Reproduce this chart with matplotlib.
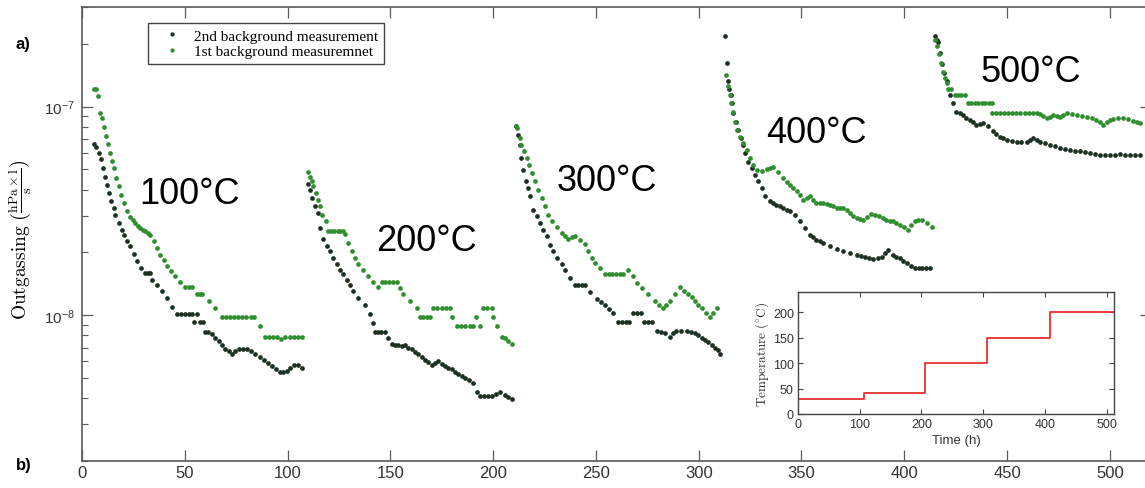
import matplotlib
matplotlib.use('Agg')
import matplotlib.pyplot as plt
from matplotlib.ticker import NullFormatter
import numpy as np

# outgassing values are in units of 1e-8 hPa*l/s, time in hours
dark_100 = [(5.7, 6.6), (6.8, 6.4), (8.1, 5.98), (9.1, 5.62), (10.1, 5.07), (11.0, 4.62), (12.0, 4.22),
            (13.0, 3.85), (14.3, 3.51), (15.4, 3.26), (16.2, 3.03), (17.8, 2.76), (19.5, 2.57), (20.3, 2.43),
            (21.9, 2.26), (23.5, 2.14), (25.1, 1.97), (26.7, 1.81), (28.9, 1.68), (30.8, 1.59), (32.0, 1.59),
            (33.2, 1.59), (34.0, 1.48), (36.5, 1.40), (38.9, 1.30), (41.3, 1.21), (43.8, 1.10), (46.2, 1.01),
            (48.0, 1.01), (50.0, 1.01), (52.0, 1.01), (53.5, 1.01), (54.3, 0.93), (56.0, 1.01), (57.5, 0.93),
            (58.9, 0.93), (60.0, 0.83), (61.5, 0.83), (63.2, 0.81), (64.8, 0.78), (66.5, 0.75), (68.0, 0.72),
            (69.7, 0.685), (71.3, 0.67), (72.9, 0.65), (74.5, 0.67), (76.2, 0.69), (78.3, 0.69), (80.3, 0.69),
            (82.3, 0.67), (84.3, 0.65), (86.4, 0.63), (88.4, 0.61), (90.4, 0.59), (92.4, 0.57), (94.4, 0.555),
            (96.5, 0.535), (98.0, 0.535), (99.7, 0.54), (101.3, 0.56), (103.0, 0.58), (105.0, 0.575), (107.0, 0.56)]
green_100 = [(6.0, 12.2), (6.9, 12.2), (7.8, 11.2), (8.9, 9.3), (9.7, 8.8), (10.7, 8.0), (11.7, 7.2), (12.6, 6.6),
             (13.6, 6.0), (14.6, 5.5), (15.6, 5.05), (16.5, 4.57), (17.8, 4.14), (19.1, 3.78), (20.4, 3.45),
             (21.9, 3.15), (23.5, 2.94), (24.7, 2.85), (25.9, 2.76), (27.2, 2.69), (28.4, 2.62), (29.6, 2.57),
             (30.8, 2.52), (32.0, 2.47), (33.2, 2.43), (34.9, 2.26), (36.5, 2.10), (38.1, 1.95), (39.7, 1.83),
             (41.3, 1.72), (43.5, 1.62), (45.4, 1.54), (47.8, 1.45), (50.3, 1.36), (52.0, 1.36), (53.5, 1.36),
             (55.9, 1.26), (57.2, 1.26), (58.4, 1.26), (61.6, 1.17), (64.8, 1.08), (68.1, 0.98), (70.0, 0.98),
             (72.0, 0.98), (74.0, 0.98), (76.0, 0.98), (78.0, 0.98), (80.0, 0.98), (82.0, 0.98), (83.5, 0.98),
             (86.7, 0.89), (89.2, 0.79), (91.0, 0.79), (93.0, 0.79), (95.0, 0.79), (97.0, 0.77), (99.0, 0.79),
             (101.0, 0.79), (103.0, 0.79), (105.0, 0.79), (107.0, 0.79)]

dark_200 = [(109.8, 4.25), (110.9, 3.99), (112.0, 3.64), (113.3, 3.32), (114.6, 3.09), (115.8, 2.61), (117.4, 2.33),
            (119.0, 2.14), (120.6, 2.02), (122.2, 1.88), (123.9, 1.75), (125.5, 1.65), (127.1, 1.57), (128.7, 1.48),
            (130.4, 1.40), (132.0, 1.30), (134.4, 1.21), (137.6, 1.12), (140.1, 1.01), (141.7, 0.92), (142.5, 0.83),
            (144.0, 0.83), (145.7, 0.83), (147.4, 0.83), (149.0, 0.78), (150.6, 0.73), (152.2, 0.72), (153.8, 0.72),
            (155.5, 0.71), (157.1, 0.72), (158.8, 0.70), (160.4, 0.685), (162.0, 0.665), (163.6, 0.65), (165.2, 0.63),
            (166.8, 0.61), (168.5, 0.595), (170.1, 0.58), (171.7, 0.59), (173.3, 0.60), (174.9, 0.585), (176.5, 0.57),
            (178.2, 0.56), (179.8, 0.55), (181.4, 0.535), (183.0, 0.52), (184.7, 0.51), (186.3, 0.50), (188.3, 0.49),
            (190.3, 0.475), (192.0, 0.43), (193.6, 0.41), (195.5, 0.41), (197.4, 0.41), (199.3, 0.41), (201.3, 0.42),
            (203.3, 0.43), (205.7, 0.415), (207.4, 0.405), (209.0, 0.395)]
green_200 = [(110.1, 4.85), (111.0, 4.6), (111.7, 4.38), (112.5, 4.14), (113.7, 3.85), (114.6, 3.58), (115.8, 3.32),
             (116.9, 3.03), (118.5, 2.82), (119.8, 2.54), (121.3, 2.54), (122.8, 2.54), (124.3, 2.54), (125.7, 2.54),
             (127.1, 2.54), (128.0, 2.45), (129.5, 2.22), (131.2, 2.02), (132.8, 1.88), (134.4, 1.75), (136.8, 1.65),
             (139.3, 1.54), (141.7, 1.44), (144.1, 1.36), (145.8, 1.45), (147.6, 1.45), (149.4, 1.45), (151.2, 1.45),
             (153.1, 1.45), (154.7, 1.35), (156.3, 1.26), (159.5, 1.17), (162.8, 1.08), (164.4, 0.98), (166.1, 0.98),
             (167.7, 0.98), (169.3, 0.98), (170.9, 1.08), (172.9, 1.08), (175.0, 1.08), (177.0, 1.08), (179.0, 1.08),
             (180.2, 0.98), (182.2, 0.89), (184.3, 0.89), (186.4, 0.89), (188.6, 0.89), (190.3, 0.89), (191.9, 0.98),
             (193.6, 0.89), (195.2, 1.08), (197.2, 1.08), (199.3, 1.08), (200.0, 0.98), (201.7, 0.89), (204.1, 0.79),
             (205.7, 0.78), (207.4, 0.75), (209.0, 0.73)]

dark_300 = [(211.1, 8.1), (212.0, 7.3), (213.0, 6.55), (213.8, 5.66), (214.6, 4.97), (216.0, 4.38), (217.1, 4.06),
            (217.9, 3.71), (219.5, 3.20), (221.2, 2.98), (222.8, 2.76), (224.4, 2.57), (226.0, 2.39), (227.6, 2.18),
            (229.3, 2.02), (230.9, 1.88), (233.3, 1.75), (234.9, 1.65), (237.4, 1.50), (239.8, 1.40), (241.4, 1.40),
            (243.0, 1.40), (244.6, 1.40), (247.1, 1.29), (250.3, 1.20), (252.3, 1.16), (254.4, 1.12), (256.5, 1.07),
            (258.5, 1.02), (260.9, 0.93), (262.7, 0.93), (264.5, 0.93), (266.3, 0.93), (268.1, 1.02), (270.0, 1.02),
            (271.8, 1.02), (273.6, 0.93), (275.4, 0.93), (277.2, 0.93), (279.5, 0.84), (281.5, 0.83), (283.6, 0.82),
            (285.9, 0.79), (287.5, 0.82), (289.2, 0.84), (291.5, 0.84), (294.1, 0.84), (296.2, 0.83), (298.2, 0.82),
            (299.8, 0.80), (301.4, 0.78), (303.0, 0.76), (304.6, 0.74), (306.3, 0.72), (307.9, 0.70), (309.2, 0.68),
            (310.3, 0.65)]
green_300 = [(211.1, 8.1), (211.7, 7.9), (213.0, 7.06), (213.8, 6.55), (215.0, 6.1), (216.3, 5.66), (217.6, 5.26),
             (218.7, 4.79), (220.3, 4.38), (222.0, 3.99), (223.6, 3.64), (225.2, 3.32), (226.8, 3.03), (228.5, 2.82),
             (230.9, 2.64), (233.3, 2.48), (234.9, 2.40), (236.5, 2.33), (238.2, 2.36), (239.8, 2.39), (242.2, 2.30),
             (244.6, 2.19), (246.3, 2.02), (247.9, 1.88), (249.5, 1.78), (251.9, 1.68), (254.4, 1.57), (256.2, 1.57),
             (258.0, 1.57), (259.8, 1.57), (261.6, 1.57), (263.3, 1.57), (265.7, 1.65), (268.1, 1.54), (269.8, 1.43),
             (272.2, 1.35), (275.4, 1.26), (278.7, 1.17), (280.7, 1.12), (282.7, 1.08), (284.3, 1.12), (285.9, 1.17),
             (288.4, 1.26), (290.8, 1.36), (292.8, 1.31), (294.9, 1.27), (296.5, 1.22), (298.1, 1.17), (299.7, 1.12),
             (301.4, 1.08), (303.4, 1.03), (305.4, 0.98), (307.0, 1.03), (308.7, 1.08)]

dark_400 = [(312.7, 21.9), (313.9, 16.1), (314.4, 13.2), (314.9, 12.2), (315.5, 11.3), (316.0, 10.4), (316.8, 9.29),
            (318.1, 8.46), (319.2, 7.72), (320.4, 7.06), (321.4, 6.55), (322.5, 5.98), (324.1, 5.45), (325.7, 5.07),
            (327.3, 4.71), (329.0, 4.38), (330.6, 4.06), (332.2, 3.71), (334.6, 3.54), (336.2, 3.46), (337.8, 3.39),
            (339.5, 3.32), (341.1, 3.26), (342.8, 3.21), (344.4, 3.16), (346.8, 3.03), (349.2, 2.82), (351.7, 2.62),
            (354.1, 2.43), (355.7, 2.36), (357.3, 2.30), (359.0, 2.26), (360.6, 2.22), (363.8, 2.14), (367.1, 2.08),
            (370.3, 2.02), (373.5, 1.98), (376.8, 1.95), (378.8, 1.93), (380.8, 1.91), (382.9, 1.88), (384.9, 1.85),
            (387.0, 1.88), (389.0, 1.91), (390.6, 1.98), (392.2, 2.06), (394.6, 1.95), (396.2, 1.91), (397.9, 1.87),
            (399.5, 1.82), (401.1, 1.78), (403.2, 1.73), (405.2, 1.68), (407.0, 1.68), (408.8, 1.68), (410.7, 1.68),
            (412.5, 1.68)]
green_400 = [(313.5, 14.2), (314.4, 12.5), (315.2, 11.4), (315.7, 10.4), (316.8, 9.46), (317.6, 8.46), (318.7, 7.72),
             (320.0, 7.18), (321.7, 6.67), (323.3, 6.2), (324.9, 5.66), (326.5, 5.26), (328.2, 4.97), (330.6, 4.92),
             (333.0, 5.03), (334.6, 5.07), (336.3, 5.11), (338.7, 4.88), (341.1, 4.53), (342.8, 4.37), (344.4, 4.22),
             (346.0, 4.07), (347.6, 3.92), (349.3, 3.75), (350.9, 3.58), (352.5, 3.65), (354.1, 3.71), (355.7, 3.58),
             (357.3, 3.45), (359.0, 3.45), (360.6, 3.45), (362.2, 3.42), (363.8, 3.39), (365.5, 3.32), (367.1, 3.26),
             (368.7, 3.27), (370.3, 3.28), (372.0, 3.18), (373.5, 3.09), (375.2, 3.00), (376.8, 2.92), (378.4, 2.90),
             (380.0, 2.87), (382.0, 2.96), (383.9, 3.05), (385.9, 3.01), (387.9, 2.98), (389.6, 2.92), (391.2, 2.87),
             (392.9, 2.84), (394.6, 2.82), (396.2, 2.76), (397.9, 2.71), (399.9, 2.64), (401.9, 2.57), (403.5, 2.70),
             (405.2, 2.82), (406.8, 2.85), (408.4, 2.87), (410.9, 2.76), (413.3, 2.66)]

dark_500 = [(414.9, 21.9), (415.7, 20.9), (416.5, 20.4), (417.5, 18.0), (418.5, 16.0), (419.5, 14.5), (420.9, 13.2),
            (422.2, 11.4), (423.8, 10.4), (425.4, 9.46), (427.0, 9.3), (428.6, 9.1), (430.2, 8.85), (431.9, 8.6),
            (433.5, 8.4), (435.1, 8.2), (436.8, 8.27), (438.4, 8.33), (440.8, 8.1), (443.2, 7.6), (444.8, 7.4),
            (446.5, 7.18), (448.1, 7.05), (449.8, 6.92), (452.2, 6.86), (454.6, 6.8), (457.0, 6.8), (459.5, 6.8),
            (461.1, 6.95), (462.7, 7.06), (464.4, 6.93), (466.0, 6.8), (468.4, 6.67), (470.8, 6.55), (473.2, 6.45),
            (475.7, 6.36), (478.1, 6.28), (480.5, 6.2), (483.0, 6.15), (485.4, 6.1), (487.8, 6.04), (490.3, 5.98),
            (492.7, 5.92), (495.1, 5.87), (497.5, 5.85), (500.0, 5.84), (502.4, 5.87), (504.9, 5.9), (507.3, 5.88),
            (509.7, 5.87), (512.1, 5.85), (514.6, 5.84)]
green_500 = [(414.9, 20.9), (416.0, 19.5), (417.0, 17.9), (418.1, 16.1), (418.9, 14.7), (419.7, 13.7), (420.6, 12.9),
             (421.5, 12.1), (422.7, 12.1), (424.6, 11.3), (426.2, 11.3), (427.8, 11.3), (429.4, 11.3), (431.0, 10.4),
             (432.7, 10.4), (434.4, 10.4), (436.1, 10.4), (437.8, 10.4), (439.5, 10.4), (441.2, 10.4), (442.9, 10.4),
             (442.5, 9.3), (444.5, 9.3), (446.5, 9.3), (448.5, 9.3), (450.5, 9.3), (452.5, 9.3), (454.5, 9.3),
             (456.5, 9.3), (458.5, 9.3), (460.5, 9.3), (462.5, 9.3), (464.5, 9.3), (466.0, 9.2), (467.6, 9.0),
             (469.2, 8.8), (470.8, 8.95), (472.5, 9.1), (474.1, 9.0), (475.7, 8.96), (477.4, 9.1), (479.0, 9.3),
             (481.4, 9.2), (483.8, 9.1), (486.3, 9.03), (488.7, 8.96), (491.1, 8.8), (493.5, 8.6), (495.2, 8.4),
             (496.8, 8.2), (498.4, 8.45), (500.1, 8.6), (501.7, 8.73), (504.1, 8.77), (506.5, 8.8), (509.0, 8.68),
             (511.4, 8.55), (513.0, 8.45), (514.6, 8.33)]

dark_runs = [dark_100, dark_200, dark_300, dark_400, dark_500]
green_runs = [green_100, green_200, green_300, green_400, green_500]
step_labels = ['100°C', '200°C', '300°C', '400°C', '500°C']
label_pos = [(28, 3.44e-8), (143, 2.06e-8), (231, 3.96e-8), (333, 6.8e-8), (437, 1.33e-7)]

# inset: oven temperature profile
temp_time = [0, 107, 107, 206, 206, 306, 306, 409, 409, 512]
temp_value = [30, 30, 42, 42, 100, 100, 150, 150, 200, 200]

plt.rcParams['font.family'] = ['Liberation Sans', 'DejaVu Sans']
plt.rcParams['mathtext.fontset'] = 'cm'

dark_c = '#1d3122'
green_c = '#2f8f2f'
axis_c = '#5a5a5a'

fig = plt.figure(figsize=(11.45, 4.89), dpi=100)
ax = fig.add_axes([0.0716, 0.0552, 0.9336, 0.9284])

for i, run in enumerate(dark_runs):
    arr = np.array(run)
    ax.plot(arr[:, 0], arr[:, 1] * 1e-8, 'o', ms=3.4, mew=0, color=dark_c,
            label='2nd background measurement' if i == 0 else None)
for i, run in enumerate(green_runs):
    arr = np.array(run)
    ax.plot(arr[:, 0], arr[:, 1] * 1e-8, 'o', ms=3.4, mew=0, color=green_c,
            label='1st background measuremnet' if i == 0 else None)

ax.set_yscale('log')
ax.set_xlim(0, 520)
ax.set_ylim(2e-9, 3e-7)
ax.set_xticks(np.arange(0, 501, 50))
ax.set_yticks([1e-8, 1e-7])
ax.yaxis.set_minor_formatter(NullFormatter())
ax.tick_params(which='both', direction='in', top=True, right=True, color=axis_c, labelcolor='#333333')
ax.tick_params(which='major', length=8, width=0.9, labelsize=12, pad=3)
ax.tick_params(axis='y', which='major', labelsize=11, pad=5)
ax.tick_params(which='minor', length=4.5, width=0.8)
for s in ax.spines.values():
    s.set_color(axis_c)
    s.set_linewidth(1.2)

ax.set_ylabel(r'$\mathrm{Outgassing}\ \left(\frac{\mathrm{hPa}\times\mathrm{l}}{\mathrm{s}}\right)$', fontsize=14)
ax.yaxis.set_label_coords(-0.045, 0.49)

for txt, (px, py) in zip(step_labels, label_pos):
    ax.text(px, py, txt, fontsize=26, color='black', ha='left', va='baseline')

leg = ax.legend(loc='upper left', bbox_to_anchor=(148 / 1145, 1 - 24 / 489), bbox_transform=fig.transFigure,
                borderaxespad=0, fancybox=False, edgecolor='#444444', framealpha=1,
                prop={'family': 'Liberation Serif', 'size': 11}, handlelength=2.4, handletextpad=0.2,
                borderpad=0.4, labelspacing=0.1, markerscale=0.9)
leg.get_frame().set_linewidth(1.0)

fig.text(23 / 1145, 1 - 44 / 489, 'a)', fontsize=12, fontweight='bold', ha='center', va='center')
fig.text(24 / 1145, 1 - 466 / 489, 'b)', fontsize=12, fontweight='bold', ha='center', va='center')

# inset
ins = fig.add_axes([798 / 1145, 1 - 415 / 489, 316 / 1145, 122 / 489])
ins.plot(temp_time, temp_value, color='#e8322e', lw=1.3)
ins.set_xlim(0, 512)
ins.set_ylim(0, 240)
ins.set_xticks(np.arange(0, 501, 100))
ins.set_yticks(np.arange(0, 201, 50))
ins.tick_params(direction='in', top=True, right=True, length=3.5, width=0.8, labelsize=9, pad=3,
                color='#444444', labelcolor='#333333')
for s in ins.spines.values():
    s.set_color('#444444')
    s.set_linewidth(1.0)
ins.set_xlabel('Time (h)', fontsize=9.5, labelpad=3, color='#333333')
ins.set_ylabel(r'$\mathrm{Temperature}\ (^{\circ}\mathrm{C})$', fontsize=9.5, labelpad=1, color='#333333')

fig.savefig('out.png', dpi=100)
